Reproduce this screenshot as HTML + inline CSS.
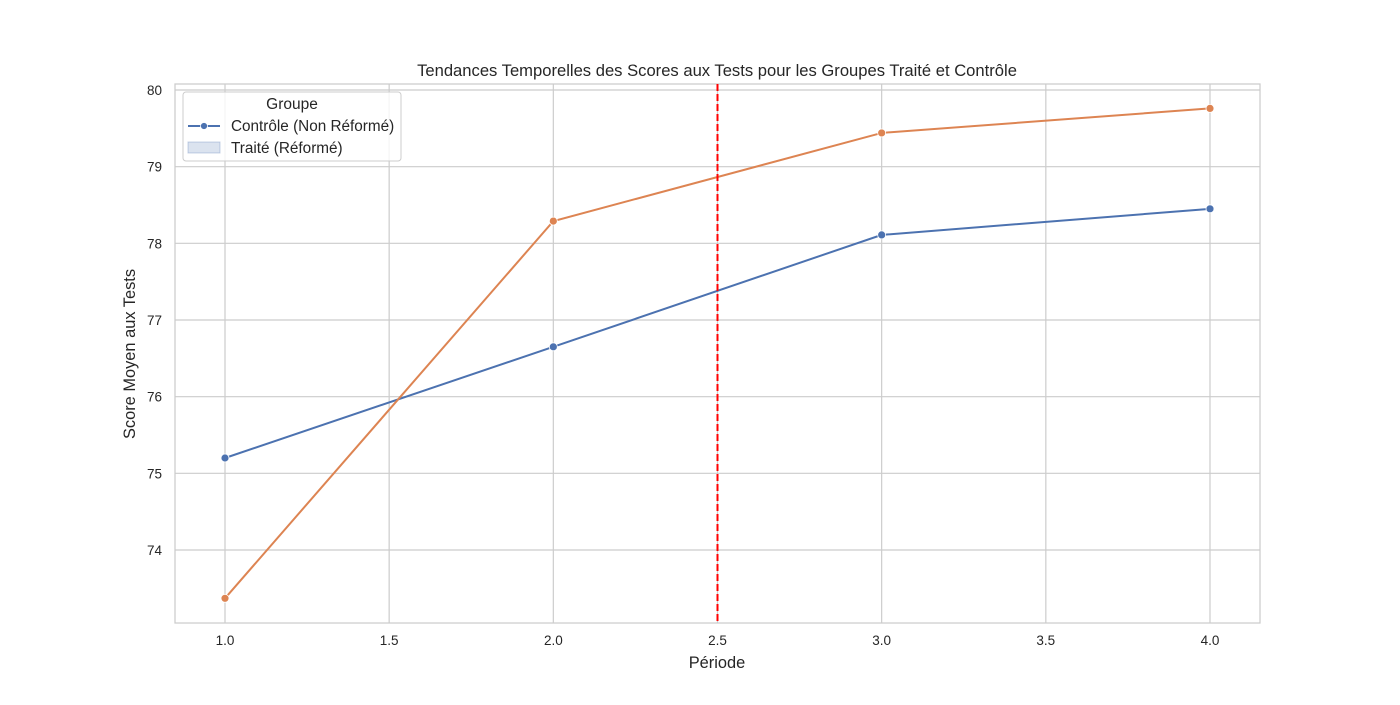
<!DOCTYPE html>
<html><head><meta charset="utf-8"><style>
body{margin:0;background:#fff;font-family:"Liberation Sans","DejaVu Sans",sans-serif;}
</style></head><body>
<svg width="1400" height="700" xmlns="http://www.w3.org/2000/svg" font-family="Liberation Sans, DejaVu Sans, sans-serif">
<rect x="0" y="0" width="1400" height="700" fill="#fff"/>
<g id="grid"></g>
<rect x="175" y="84" width="1085" height="539" fill="none" stroke="#ccc" stroke-width="1.25"/>
<g id="ticks"></g>
<g id="series"></g>
<text x="717" y="76" text-anchor="middle" font-size="16.6" fill="#262626">Tendances Temporelles des Scores aux Tests pour les Groupes Traité et Contrôle</text>
<text x="717" y="668" text-anchor="middle" font-size="16.4" fill="#262626">Période</text>
<text transform="translate(135,354) rotate(-90)" text-anchor="middle" font-size="16.4" fill="#262626">Score Moyen aux Tests</text>
<g>
<rect x="183" y="92" width="218" height="69" rx="3" fill="#fff" fill-opacity="0.8" stroke="#ccc"/>
<text x="292" y="109" text-anchor="middle" font-size="15.5" fill="#262626">Groupe</text>
<g>
<line x1="188" y1="126" x2="220" y2="126" stroke="#4c72b0" stroke-width="2"/>
<circle cx="204" cy="126" r="3.5" fill="#4c72b0" stroke="#fff" stroke-width="0.8"/>
<text x="231" y="131" font-size="15.3" fill="#262626">Contrôle (Non Réformé)</text></g>
<g>
<rect x="188" y="142" width="32" height="11" fill="#4c72b0" fill-opacity="0.2" stroke="#4c72b0" stroke-opacity="0.3"/>
<text x="231" y="153" font-size="15.3" fill="#262626">Traité (Réformé)</text></g>
</g>
</svg>
<script>
const periods=[1,2,3,4];
const controlScores=[75.2,76.65,78.11,78.45];
const treatedScores=[73.37,78.29,79.44,79.76];
const xTicks=[1.0,1.5,2.0,2.5,3.0,3.5,4.0];
const yTicks=[74,75,76,77,78,79,80];
const cutoff=[2.5];
const NS="http://www.w3.org/2000/svg";
const X=v=>225+(v-1)*328.33;
const Y=v=>550-(v-74)*76.667;
function mk(tag,at,parent){const e=document.createElementNS(NS,tag);for(const k in at)e.setAttribute(k,at[k]);document.getElementById(parent).appendChild(e);return e;}
xTicks.forEach(t=>{
const g=mk('line',{x1:X(t),x2:X(t),y1:84,y2:623,stroke:'#ccc','stroke-width':1.2},'grid');


const l=mk('text',{x:X(t),y:645,'text-anchor':'middle','font-size':13.5,fill:'#262626'},'ticks');
l.textContent=t.toFixed(1);


});
yTicks.forEach(t=>{
const g=mk('line',{x1:175,x2:1260,y1:Y(t),y2:Y(t),stroke:'#ccc','stroke-width':1.2},'grid');


const l=mk('text',{x:162,y:Y(t)+5,'text-anchor':'end','font-size':13.5,fill:'#262626'},'ticks');
l.textContent=t;


});
function series(vals,color,name){
const p=mk('polyline',{points:periods.map((x,i)=>X(x)+','+Y(vals[i])).join(' '),fill:'none',stroke:color,'stroke-width':2},'series');


periods.forEach((x,i)=>{
const c=mk('circle',{cx:X(x),cy:Y(vals[i]),r:4,fill:color,stroke:'#fff','stroke-width':0.8},'series');


});
}
series(controlScores,'#4c72b0','control');
series(treatedScores,'#dd8452','treated');
const v=mk('line',{x1:X(cutoff[0]),x2:X(cutoff[0]),y1:84,y2:623,stroke:'#ff0000','stroke-width':2,'stroke-dasharray':'7,3'},'series');


</script>
</body></html>
